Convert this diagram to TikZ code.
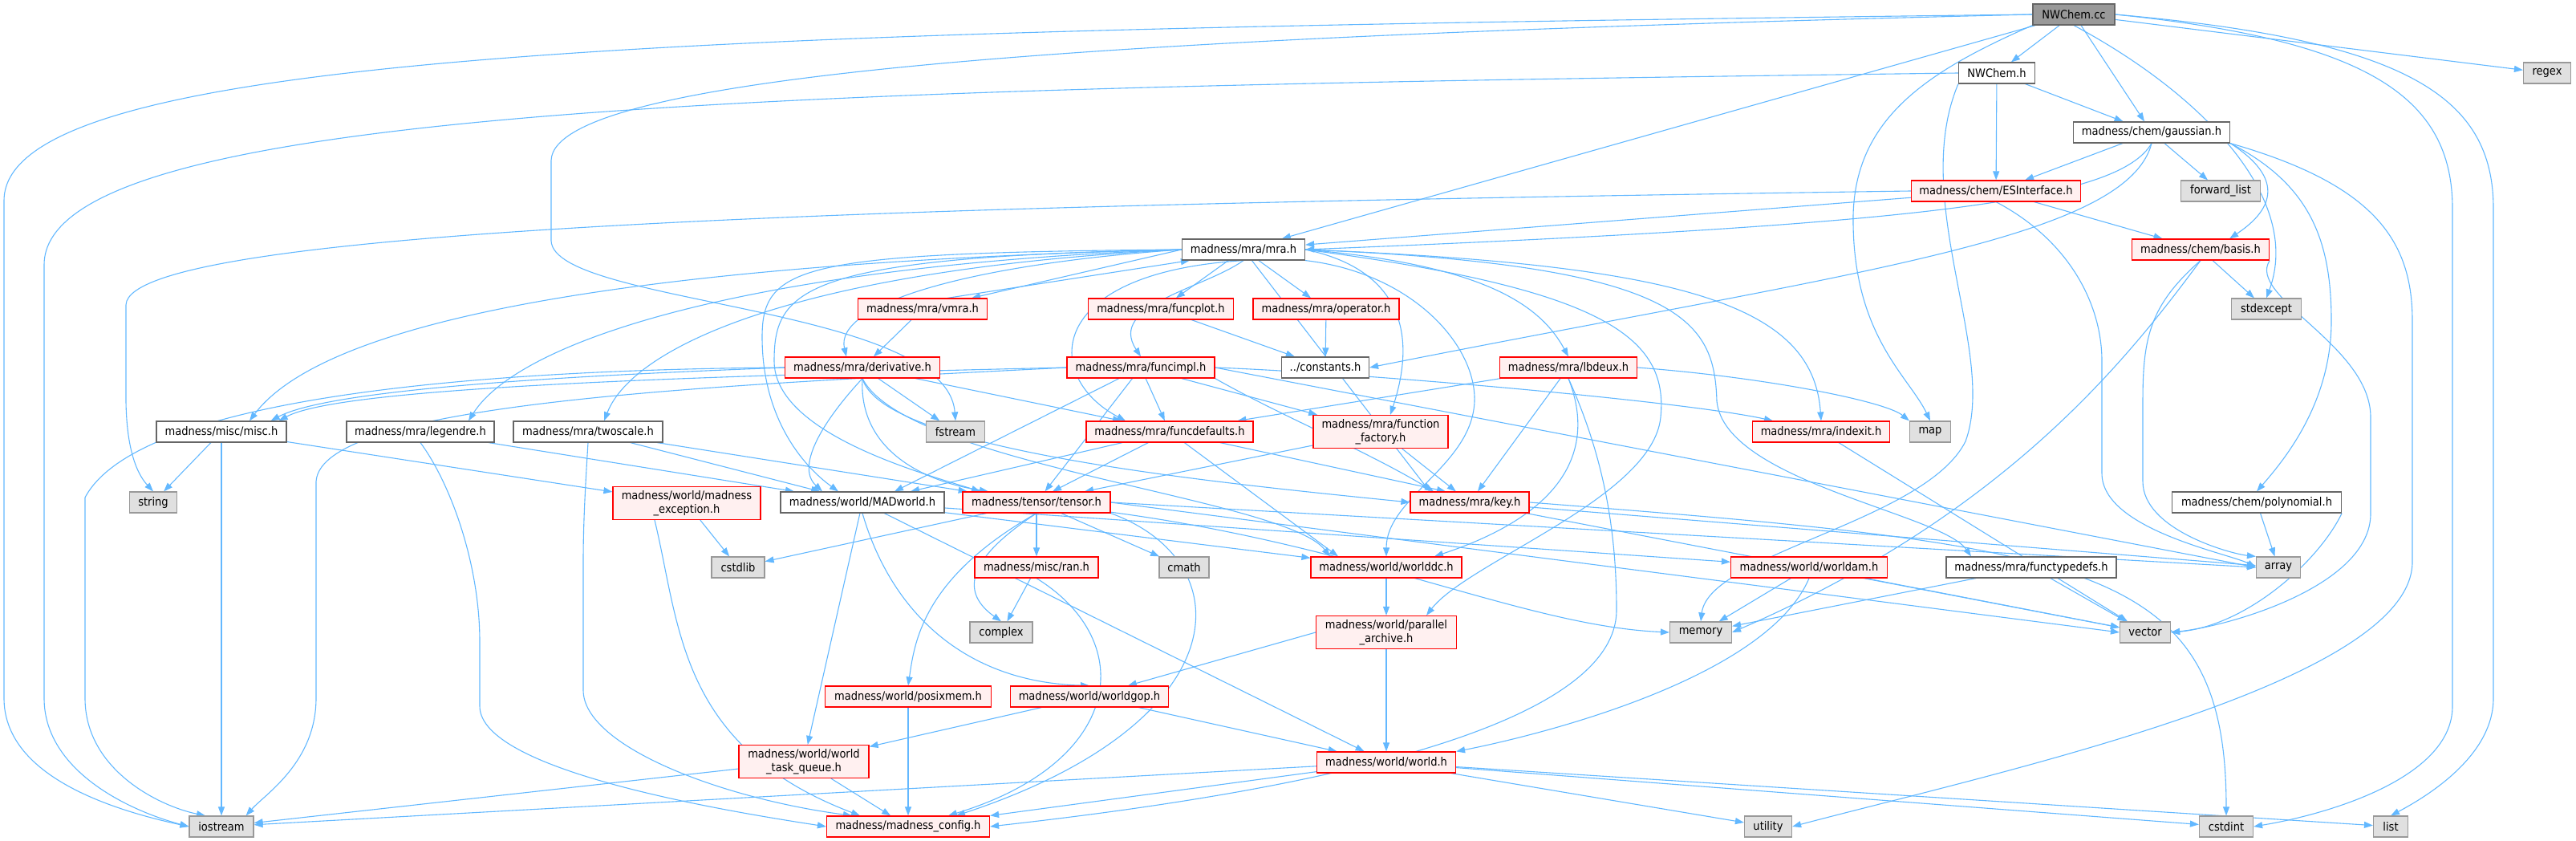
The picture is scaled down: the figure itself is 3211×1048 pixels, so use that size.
\documentclass[tikz,border=0pt]{standalone}
\usepackage{fontspec}
\newfontfamily\gfont{DejaVu Sans Condensed}
\usetikzlibrary{arrows.meta,backgrounds}
\definecolor{edgec}{HTML}{63B8FF}
\definecolor{redfill}{HTML}{FFF0F0}
\definecolor{gfour}{HTML}{666666}
\definecolor{gsix}{HTML}{999999}
\definecolor{gext}{HTML}{E0E0E0}
\tikzset{
 nb/.style={draw, rectangle, inner sep=0pt, minimum height=26pt, font=\gfont\fontsize{14.5}{16.5}\selectfont, text=black, line width=1.2pt, align=center},
 redn/.style={nb, draw=red, fill=redfill},
 whn/.style={nb, draw=gfour, fill=white},
 extn/.style={nb, draw=gsix, fill=gext},
 topn/.style={nb, draw=gfour, fill=gsix},
 e/.style={draw=edgec, line width=1.1pt, -{Triangle[length=11pt,width=8pt]}},
}
\newcommand\nd[6]{\node[#5, minimum width=#4pt] (#1) at (#2,#3) {#6};}
\begin{document}
\begin{tikzpicture}[x=1pt,y=-1pt]
\useasboundingbox (0,0) rectangle (3211,1048);
% nodes
\nd{cc}{2585}{18}{102}{topn}{NWChem.cc}
\nd{nwh}{2489}{91}{95}{whn}{NWChem.h}
\nd{regex}{3175}{91}{59}{extn}{regex}
\nd{gau}{2682}{165}{195}{whn}{madness/chem/gaussian.h}
\nd{esi}{2488}{238}{211}{redn}{madness/chem/ESInterface.h}
\nd{fwd}{2768}{238}{99}{extn}{forward\_list}
\nd{basis}{2743}{311}{171}{redn}{madness/chem/basis.h}
\nd{mra}{1550}{311}{153}{whn}{madness/mra/mra.h}
\nd{stdexc}{2825}{385}{87}{extn}{stdexcept}
\nd{vmra}{1150}{385}{161}{redn}{madness/mra/vmra.h}
\nd{fplot}{1447}{385}{181}{redn}{madness/mra/funcplot.h}
\nd{oper}{1653}{385}{182}{redn}{madness/mra/operator.h}
\nd{deriv}{1075}{458}{193}{redn}{madness/mra/derivative.h}
\nd{fimpl}{1422}{458}{184}{redn}{madness/mra/funcimpl.h}
\nd{const}{1652}{458}{109}{whn}{../constants.h}
\nd{lbd}{1955}{458}{171}{redn}{madness/mra/lbdeux.h}
\nd{misc}{276}{538}{162}{whn}{madness/misc/misc.h}
\nd{leg}{524}{538}{184}{whn}{madness/mra/legendre.h}
\nd{twos}{733}{538}{186}{whn}{madness/mra/twoscale.h}
\nd{fstr}{1191}{538}{73}{extn}{fstream}
\nd{fdef}{1458}{538}{208}{redn}{madness/mra/funcdefaults.h}
\nd{ffac}{1721}{538}{168}{redn, minimum height=41pt}{madness/mra/function\\\_factory.h}
\nd{idx}{2270}{538}{171}{redn}{madness/mra/indexit.h}
\nd{map}{2406}{538}{51}{extn}{map}
\nd{str}{191}{626}{59}{extn}{string}
\nd{mexc}{856}{627}{184}{redn, minimum height=41pt}{madness/world/madness\\\_exception.h}
\nd{madw}{1075}{626}{204}{whn}{madness/world/MADworld.h}
\nd{tens}{1292}{626}{184}{redn}{madness/tensor/tensor.h}
\nd{key}{1832}{626}{148}{redn}{madness/mra/key.h}
\nd{poly}{2813}{626}{211}{whn}{madness/chem/polynomial.h}
\nd{cstdlib}{920}{707}{66}{extn}{cstdlib}
\nd{ran}{1292}{707}{154}{redn}{madness/misc/ran.h}
\nd{cmath}{1476}{707}{62}{extn}{cmath}
\nd{wdc}{1728}{707}{188}{redn}{madness/world/worlddc.h}
\nd{wam}{2255}{707}{195}{redn}{madness/world/worldam.h}
\nd{ftd}{2532}{707}{212}{whn}{madness/mra/functypedefs.h}
\nd{arr}{2840}{707}{55}{extn}{array}
\nd{cplx}{1248}{788}{78}{extn}{complex}
\nd{par}{1728}{788}{175}{redn, minimum height=41pt}{madness/world/parallel\\\_archive.h}
\nd{mem}{2120}{788}{77}{extn}{memory}
\nd{vec}{2674}{788}{63}{extn}{vector}
\nd{posix}{1132}{868}{207}{redn}{madness/world/posixmem.h}
\nd{wgop}{1358}{868}{197}{redn}{madness/world/worldgop.h}
\nd{wtq}{1002}{949}{162}{redn, minimum height=41pt}{madness/world/world\\\_task\_queue.h}
\nd{world}{1728}{950}{173}{redn}{madness/world/world.h}
\nd{ios}{276}{1030}{80}{extn}{iostream}
\nd{cfg}{1132}{1030}{203}{redn}{madness/madness\_config.h}
\nd{util}{2204}{1030}{59}{extn}{utility}
\nd{cint}{2775}{1030}{67}{extn}{cstdint}
\nd{list}{2980}{1030}{43}{extn}{list}
\begin{pgfonlayer}{background}
% edges from NWChem.cc
\draw[e] (cc) -- (nwh);
\draw[e] (cc) -- (gau);
\draw[e] (cc) -- (mra);
\draw[e] (cc) -- (regex);
\draw[e] (cc.west) .. controls (900,38) and (5,60) .. (5,250) -- (5,870) .. controls (5,960) and (120,1005) .. (ios.west);
\draw[e] (cc.west) .. controls (1400,45) and (690,90) .. (687,200) -- (687,300) .. controls (690,380) and (1180,380) .. (fstr.north);
\draw[e] (cc.south) .. controls (2750,120) and (2870,250) .. (stdexc.north);
\draw[e] (cc.east) .. controls (2950,50) and (3057,120) .. (3057,260) -- (3057,880) .. controls (3057,970) and (2900,1015) .. (cint.east);
\draw[e] (cc.east) .. controls (3000,50) and (3108,120) .. (3108,260) -- (3108,870) .. controls (3108,940) and (3030,990) .. (list.north);
\draw[e] (cc.south west) .. controls (2400,90) and (2307,150) .. (2310,280) .. controls (2312,420) and (2380,470) .. (map.north);
% NWChem.h
\draw[e] (nwh.west) .. controls (1000,110) and (55,130) .. (55,330) -- (55,870) .. controls (55,960) and (160,1010) .. (ios.west);
\draw[e] (nwh) -- (esi);
\draw[e] (nwh) -- (gau);
\draw[e] (nwh.south west) .. controls (2380,250) and (2490,440) .. (2450,550) .. controls (2400,650) and (2130,690) .. (mem.north);
% gaussian.h
\draw[e] (gau) -- (esi);
\draw[e] (gau.south) .. controls (2640,250) and (2400,280) .. (mra.east);
\draw[e] (gau.south) .. controls (2650,300) and (2300,340) .. (const.east);
\draw[e] (gau) -- (fwd);
\draw[e] (gau.south east) .. controls (2860,230) and (2820,270) .. ([xshift=-50pt]basis.north east);
\draw[e] (gau.south east) .. controls (2880,230) and (2906,300) .. (2906,400) .. controls (2906,500) and (2850,570) .. (poly.north);
\draw[e] (gau.south east) .. controls (2960,230) and (3007,300) .. (3007,400) -- (3007,700) .. controls (3007,850) and (2500,960) .. (util.east);
% ESInterface.h
\draw[e] (esi) -- (mra);
\draw[e] (esi) -- (basis);
\draw[e] (esi.west) .. controls (1200,255) and (160,280) .. (157,380) -- (157,500) .. controls (158,570) and (175,595) .. (str.north);
\draw[e] (esi.south) .. controls (2580,300) and (2620,380) .. (2620,450) -- (2620,590) .. controls (2620,660) and (2780,690) .. (arr.west);
% basis.h
\draw[e] (basis) -- (stdexc);
\draw[e] (basis.south) .. controls (2680,380) and (2671,420) .. (2671,500) -- (2671,600) .. controls (2671,660) and (2780,690) .. (arr.north west);
\draw[e] (basis.south east) .. controls (2800,370) and (2955,430) .. (2955,520) -- (2955,640) .. controls (2955,730) and (2780,780) .. (vec.east);
\draw[e] (basis.south) .. controls (2650,450) and (2500,640) .. (mem.east);
% polynomial.h
\draw[e] (poly) -- (arr);
\draw[e] (poly.south east) .. controls (2890,700) and (2800,780) .. (vec.east);
% mra.h
\draw[e] (mra.west) -- ([xshift=-20pt]vmra.north east);
\draw[e] ([xshift=-50pt]vmra.north east) -- ([xshift=10pt]mra.south west);
\draw[e] (mra) -- (fplot);
\draw[e] (mra) -- (oper);
\draw[e] (mra.west) .. controls (1200,330) and (1040,380) .. ([xshift=-20pt]deriv.north);
\draw[e] (mra.south) .. controls (1500,360) and (1380,380) .. (fimpl.north);
\draw[e] (mra.east) .. controls (1850,330) and (1920,380) .. (lbd.north);
\draw[e] (mra.west) .. controls (900,325) and (420,380) .. ([xshift=35pt]misc.north);
\draw[e] (mra.west) .. controls (950,330) and (650,420) .. ([xshift=60pt]leg.north);
\draw[e] (mra.west) .. controls (1000,335) and (790,430) .. ([xshift=20pt]twos.north);
\draw[e] (mra.south) .. controls (1300,340) and (1300,470) .. ([xshift=-55pt]fdef.north);
\draw[e] (mra.east) .. controls (1720,330) and (1775,390) .. ([xshift=12pt]ffac.north);
\draw[e] (mra.east) .. controls (2100,330) and (2260,380) .. (idx.north);
\draw[e] (mra) -- ([xshift=-50pt]key.north);
\draw[e] (mra.west) .. controls (1000,315) and (950,330) .. (950,420) .. controls (950,520) and (1000,580) .. ([xshift=-30pt]madw.north);
\draw[e] (mra.west) .. controls (1000,320) and (965,360) .. (965,450) .. controls (965,540) and (1150,590) .. ([xshift=-70pt]tens.north);
\draw[e] (mra.south east) .. controls (1760,340) and (1840,430) .. (1838,500) .. controls (1835,580) and (1728,620) .. (wdc.north);
\draw[e] (mra.east) .. controls (2000,360) and (2080,420) .. (2070,520) .. controls (2060,620) and (1830,700) .. ([xshift=50pt]par.north);
\draw[e] (mra.east) .. controls (2100,330) and (2137,400) .. (2140,500) .. controls (2150,600) and (2420,640) .. ([xshift=-75pt]ftd.north);
% vmra, funcplot, operator
\draw[e] (vmra) -- (deriv);
\draw[e] (fplot) -- (const);
\draw[e] (oper) -- (const);
% derivative.h
\draw[e] (deriv.west) .. controls (800,465) and (420,480) .. ([xshift=-20pt]misc.north east);
\draw[e] (deriv.west) .. controls (700,460) and (180,480) .. (106,620) -- (106,870) .. controls (106,960) and (200,1005) .. ([xshift=-20pt]ios.north);
\draw[e] (deriv) -- (fstr);
\draw[e] (deriv) -- ([xshift=-60pt]fdef.north);
\draw[e] (deriv.south) .. controls (1030,520) and (990,580) .. ([xshift=-50pt]madw.north);
\draw[e] (deriv.south) .. controls (1070,560) and (1150,600) .. ([xshift=-60pt]tens.north);
\draw[e] (deriv.south) .. controls (1100,560) and (1500,600) .. (key.west);
\draw[e] (deriv.south) .. controls (1130,580) and (1600,620) .. ([xshift=-70pt]wdc.north);
% funcimpl.h
\draw[e] (fimpl.west) .. controls (800,470) and (420,485) .. ([xshift=-10pt]misc.north east);
\draw[e] (fimpl.west) .. controls (900,480) and (400,500) .. (394,600) -- (394,870) .. controls (394,950) and (330,990) .. ([xshift=-10pt]ios.north east);
\draw[e] (fimpl) -- (fdef);
\draw[e] (fimpl) -- (tens);
\draw[e] (fimpl) -- ([xshift=40pt]madw.north);
\draw[e] (fimpl) -- (ffac);
\draw[e] (fimpl.south east) .. controls (1600,520) and (1700,560) .. ([xshift=-45pt]key.north);
\draw[e] (fimpl.east) .. controls (1700,465) and (2100,500) .. ([xshift=-60pt]idx.north);
\draw[e] (fimpl.east) -- (arr.west);
% funcdefaults.h
\draw[e] (fdef) -- ([xshift=20pt]tens.north);
\draw[e] (fdef) -- ([xshift=-30pt]key.north);
\draw[e] (fdef) -- ([xshift=-60pt]wdc.north);
\draw[e] (fdef) -- ([xshift=60pt]madw.north);
% function_factory.h
\draw[e] (ffac) -- (key);
\draw[e] (ffac) -- ([xshift=60pt]tens.north);
% lbdeux.h
\draw[e] (lbd) -- (fdef);
\draw[e] (lbd) -- (key);
\draw[e] (lbd.south) .. controls (1990,560) and (1950,640) .. ([xshift=60pt]wdc.north);
\draw[e] (lbd.east) .. controls (2200,470) and (2350,500) .. (map.north west);
\draw[e] (lbd.south) .. controls (1995,560) and (2015,650) .. (2015,760) .. controls (2015,930) and (1500,1000) .. (cfg.east);
% indexit.h
\draw[e] (idx) -- (vec);
% misc.h
\draw[e] (misc) -- (str);
\draw[e] (misc) -- (ios);
\draw[e] (misc) -- (mexc);
% legendre.h
\draw[e] (leg) -- (madw);
\draw[e] (leg.south) .. controls (560,600) and (598,700) .. (598,800) -- (598,880) .. controls (598,960) and (900,1010) .. (cfg.west);
% twoscale.h
\draw[e] (twos) -- (madw);
\draw[e] (twos) -- (tens);
\draw[e] (twos.south) .. controls (730,600) and (727,650) .. (727,700) -- (727,860) .. controls (727,930) and (900,995) .. ([xshift=-70pt]cfg.north);
% madness_exception.h
\draw[e] (mexc) -- (cstdlib);
\draw[e] ([xshift=-40pt]mexc.south) .. controls (848,780) and (845,930) .. ([xshift=-60pt]cfg.north);
% MADworld.h
\draw[e] (madw) -- (wtq);
\draw[e] (madw.south) .. controls (1110,760) and (1200,850) .. (wgop.north);
\draw[e] (madw) -- (world);
\draw[e] (madw) -- (wdc);
\draw[e] (madw) -- (wam);
% tensor.h
\draw[e] (tens) -- (cstdlib);
\draw[e] (tens.south) .. controls (1200,700) and (1200,740) .. (cplx.north);
\draw[e] (tens) -- (ran);
\draw[e] (tens) -- (cmath);
\draw[e] (tens) .. controls (1700,680) and (1900,780) .. (mem.west);
\draw[e] (tens.south) .. controls (1150,720) and (1140,800) .. (posix.north);
\draw[e] (tens.south east) .. controls (1550,700) and (1545,900) .. ([xshift=60pt]cfg.north);
\draw[e] (tens.east) -- (arr.west);
\draw[e] (tens.east) -- (vec.west);
% key.h
\draw[e] (key) -- (arr);
\draw[e] (key) -- (vec);
\draw[e] (key.east) .. controls (2600,680) and (2775,700) .. (cint.north);
% ran.h
\draw[e] (ran) -- (cplx);
\draw[e] (ran.south) .. controls (1420,800) and (1400,950) .. ([xshift=50pt]cfg.north);
% worlddc.h etc
\draw[e] (wdc) -- (par);
\draw[e] (wam) -- (mem);
\draw[e] (wam.south) .. controls (2200,850) and (1900,920) .. (world.north east);
\draw[e] (wam) -- (vec);
\draw[e] (ftd) -- (mem);
\draw[e] (ftd) -- (vec);
\draw[e] (par) -- (world);
\draw[e] (par.west) -- (wgop);
\draw[e] (posix) -- (cfg);
\draw[e] (wgop) -- (wtq);
\draw[e] (wgop) -- (world);
\draw[e] (wtq) -- (ios);
\draw[e] (wtq) -- (cfg);
\draw[e] (world) -- (cfg);
\draw[e] (world) -- (ios);
\draw[e] (world) -- (util);
\draw[e] (world) -- (cint);
\draw[e] (world) -- (list);
\end{pgfonlayer}
\end{tikzpicture}
\end{document}
